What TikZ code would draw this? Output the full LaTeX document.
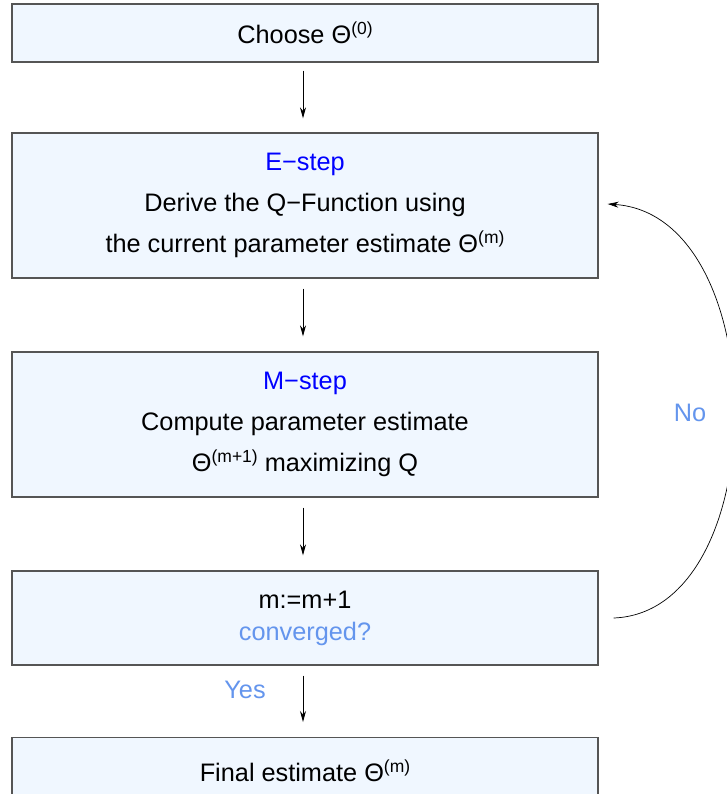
\documentclass[tikz,border=0pt]{standalone}
\usepackage{fontspec}
\setmainfont{Liberation Sans}
\usetikzlibrary{arrows.meta}
\definecolor{boxfill}{RGB}{240,247,255}
\definecolor{boxline}{RGB}{85,85,85}
\definecolor{lblue}{RGB}{100,149,237}
\definecolor{hblue}{RGB}{0,0,255}
\newcommand{\sth}{\char"0398}
\newcommand{\supx}[1]{\raisebox{9pt}{\fontsize{17.5}{20}\selectfont #1}}
\begin{document}
\begin{tikzpicture}[x=1pt,y=-1pt,
  box/.style={draw=boxline, line width=1.3pt, fill=boxfill, minimum width=586pt,
    inner sep=0pt, align=center, font=\fontsize{25.3}{41}\selectfont},
  arr/.style={draw=black, line width=0.9pt, -{Stealth[length=11pt,width=6pt]}},
  lbl/.style={text=lblue, font=\fontsize{25.3}{41}\selectfont, inner sep=0pt}]
\useasboundingbox (0,0) rectangle (726,794);
\node[box, minimum height=58pt] (b1) at (305,33) {Choose \sth\supx{(0)}};
\node[box, minimum height=145pt] (b2) at (305,205.5)
  {\textcolor{hblue}{E−step}\\Derive the Q−Function using\\the current parameter estimate \sth\supx{(m)}};
\node[box, minimum height=145pt] (b3) at (305,424.5)
  {\textcolor{hblue}{M−step}\\Compute parameter estimate\\\sth\supx{(m+1)} maximizing Q};
\node[box, minimum height=94pt] (b4) at (305,618)
  {m:=m+1\\[-9pt]\textcolor{lblue}{converged?}};
\node[box, minimum height=76pt, anchor=north] (b5) at (305,737)
  {\raisebox{10pt}{Final estimate \sth\supx{(m)}}};
\draw[arr, shorten <=8pt, shorten >=14pt] ([xshift=-2pt]b1.south) -- ([xshift=-2pt]b2.north);
\draw[arr, shorten <=10pt, shorten >=15pt] ([xshift=-2pt]b2.south) -- ([xshift=-2pt]b3.north);
\draw[arr, shorten <=10pt, shorten >=15pt] ([xshift=-2pt]b3.south) -- ([xshift=-2pt]b4.north);
\draw[arr, shorten <=10pt, shorten >=15pt] ([xshift=-2pt]b4.south) -- ([xshift=-2pt]b5.north);
\node[lbl] (yes) at (245,690) {Yes};
\node[lbl] (no) at (690,413) {No};
\coordinate (fbs) at ([xshift=15pt]b4.east);
\coordinate (fbe) at ([xshift=9pt,yshift=1.5pt]b2.east);
\draw[arr, line width=0.7pt] (fbs) .. controls (775,612) and (775,215) .. (fbe);
\end{tikzpicture}
\end{document}
